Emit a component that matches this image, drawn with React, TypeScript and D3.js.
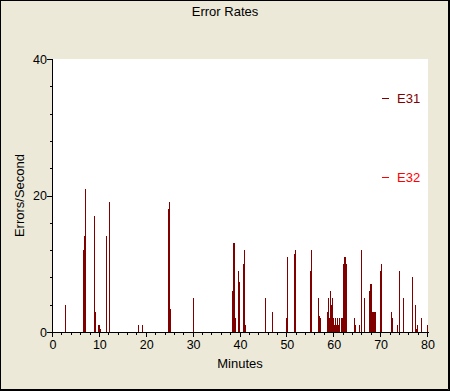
import React, { useEffect, useRef } from 'react';
import * as d3 from 'd3';

// E31 samples: minute of sample, errors per second
const e31Minutes = [
  2.56, 6.4, 6.61, 6.83, 8.75, 8.96, 9.6, 9.81, 10.03, 11.31, 11.95,
  18.13, 18.99, 24.53, 24.75, 24.96, 29.87,
  38.19, 38.4, 38.61, 38.83, 39.47, 39.68, 40.53, 40.75, 40.96, 45.23, 46.72,
  49.71, 49.92, 51.41, 51.63, 54.83, 55.04, 56.53, 56.75, 56.96,
  58.45, 58.67, 58.88, 59.09, 59.31, 59.52, 59.73, 59.95, 60.16, 60.37, 60.59, 60.8, 61.01, 61.44, 61.65,
  61.87, 62.08, 62.29, 62.51, 64.21, 64.43, 65.28, 65.71, 66.35,
  67.41, 67.63, 67.84, 68.05, 68.27, 68.48, 68.69, 69.76, 69.97,
  72.11, 72.32, 73.39, 73.81, 74.67, 76.59, 77.23, 77.44, 77.65, 78.51, 79.79,
];
const e31Rates = [
  4, 12, 14, 21, 17, 3, 1, 1, 0.5, 14, 19,
  1, 1, 18, 19, 3.4, 5,
  6, 13, 13, 2, 9, 7.3, 10, 12, 1, 5, 3,
  2, 11, 11.4, 12, 9, 12, 5, 2.3, 2,
  3, 5, 2, 6, 4, 5, 2, 1, 2, 1, 2, 1, 2, 2, 2,
  10, 11, 11, 10, 2, 1, 1, 12, 5,
  6, 7, 7, 3, 3, 3, 3, 9, 10,
  3, 2, 1, 9, 5, 8, 4, 0.5, 1, 2, 1,
];
// E32 had no errors in this run
const e32Minutes: number[] = [];
const e32Rates: number[] = [];

const seriesNames = ['E31', 'E32'];
const seriesColors = ['#800000', '#ff0000'];

const xMajorTicks = [0, 10, 20, 30, 40, 50, 60, 70, 80];
const yMajorTicks = [0, 20, 40];

const W = 450;
const H = 391;
const FONT = '"Liberation Sans", Arial, sans-serif';

const App = () => {
  const ref = useRef<SVGSVGElement>(null);

  useEffect(() => {
    const svg = d3.select(ref.current);
    svg.selectAll('*').remove();

    const x = d3.scaleLinear().domain([0, 80]).range([53, 428]);
    const y = d3.scaleLinear().domain([0, 40]).range([332, 59]);

    // window background and frame
    svg.append('rect').attr('width', W).attr('height', H).attr('fill', '#ece9d8');
    svg.append('rect').attr('x', 0.5).attr('y', 0.5).attr('width', W - 1).attr('height', H - 1)
      .attr('fill', 'none').attr('stroke', '#000');
    svg.append('path').attr('d', `M${W - 1.5},1V${H - 1.5}H1`).attr('fill', 'none').attr('stroke', '#000');

    // plot area
    svg.append('rect')
      .attr('x', x(0)).attr('y', y(40))
      .attr('width', x(80) - x(0)).attr('height', y(0) - y(40))
      .attr('fill', '#fff');

    const series = [
      { minutes: e31Minutes, rates: e31Rates },
      { minutes: e32Minutes, rates: e32Rates },
    ];

    series.forEach((s, si) => {
      svg.append('g')
        .attr('shape-rendering', 'crispEdges')
        .selectAll('rect')
        .data(s.minutes.map((m, i) => ({ m, v: s.rates[i] })))
        .enter()
        .append('rect')
        .attr('x', (d) => Math.round(x(d.m)))
        .attr('y', (d) => Math.round(y(d.v)))
        .attr('width', 1)
        .attr('height', (d) => y(0) - Math.round(y(d.v)))
        .attr('fill', seriesColors[si]);
    });

    // axes
    const axes = svg.append('g').attr('shape-rendering', 'crispEdges').attr('stroke', '#000');
    axes.append('line').attr('x1', x(0) - 0.5).attr('x2', x(0) - 0.5).attr('y1', y(40)).attr('y2', y(0) + 0.5);
    axes.append('line').attr('x1', x(0) - 0.5).attr('x2', x(80) + 0.5).attr('y1', y(0) + 0.5).attr('y2', y(0) + 0.5);

    d3.range(0, 81, 2).forEach((t) => {
      const major = t % 10 === 0;
      axes.append('line')
        .attr('x1', Math.round(x(t)) - 0.5).attr('x2', Math.round(x(t)) - 0.5)
        .attr('y1', y(0) + 0.5).attr('y2', y(0) + (major ? 5 : 3));
    });
    d3.range(0, 41, 4).concat(yMajorTicks).forEach((t) => {
      const major = yMajorTicks.includes(t);
      axes.append('line')
        .attr('x1', x(0) - (major ? 6 : 3.5)).attr('x2', x(0) - 0.5)
        .attr('y1', Math.round(y(t)) + 0.5).attr('y2', Math.round(y(t)) + 0.5);
    });

    const text = svg.append('g').attr('font-family', FONT).attr('fill', '#000');

    text.selectAll('.xt')
      .data(xMajorTicks)
      .enter()
      .append('text')
      .attr('x', (d) => x(d))
      .attr('y', 349)
      .attr('text-anchor', 'middle')
      .attr('font-size', 12.5)
      .text((d) => d);

    text.selectAll('.yt')
      .data(yMajorTicks)
      .enter()
      .append('text')
      .attr('x', 47)
      .attr('y', (d) => y(d) + 4.5)
      .attr('text-anchor', 'end')
      .attr('font-size', 12.5)
      .text((d) => d);

    text.append('text')
      .attr('x', 225).attr('y', 16)
      .attr('text-anchor', 'middle').attr('font-size', 13)
      .text('Error Rates');

    text.append('text')
      .attr('x', 240).attr('y', 368)
      .attr('text-anchor', 'middle').attr('font-size', 13)
      .text('Minutes');

    text.append('text')
      .attr('transform', `translate(24, ${(y(0) + y(40)) / 2}) rotate(-90)`)
      .attr('text-anchor', 'middle').attr('font-size', 13)
      .text('Errors/Second');

    // legend
    const legendY = [98, 177];
    seriesNames.forEach((name, i) => {
      svg.append('line')
        .attr('x1', 382).attr('x2', 389)
        .attr('y1', legendY[i] + 0.5).attr('y2', legendY[i] + 0.5)
        .attr('stroke', seriesColors[i]).attr('shape-rendering', 'crispEdges');
      svg.append('text')
        .attr('x', 397).attr('y', legendY[i] + 5)
        .attr('font-family', FONT).attr('font-size', 13)
        .attr('fill', seriesColors[i])
        .text(name);
    });
  }, []);

  return (
    <svg
      ref={ref}
      width={W}
      height={H}
      style={{ position: 'fixed', left: 0, top: 0 }}
    />
  );
};

export default App;
